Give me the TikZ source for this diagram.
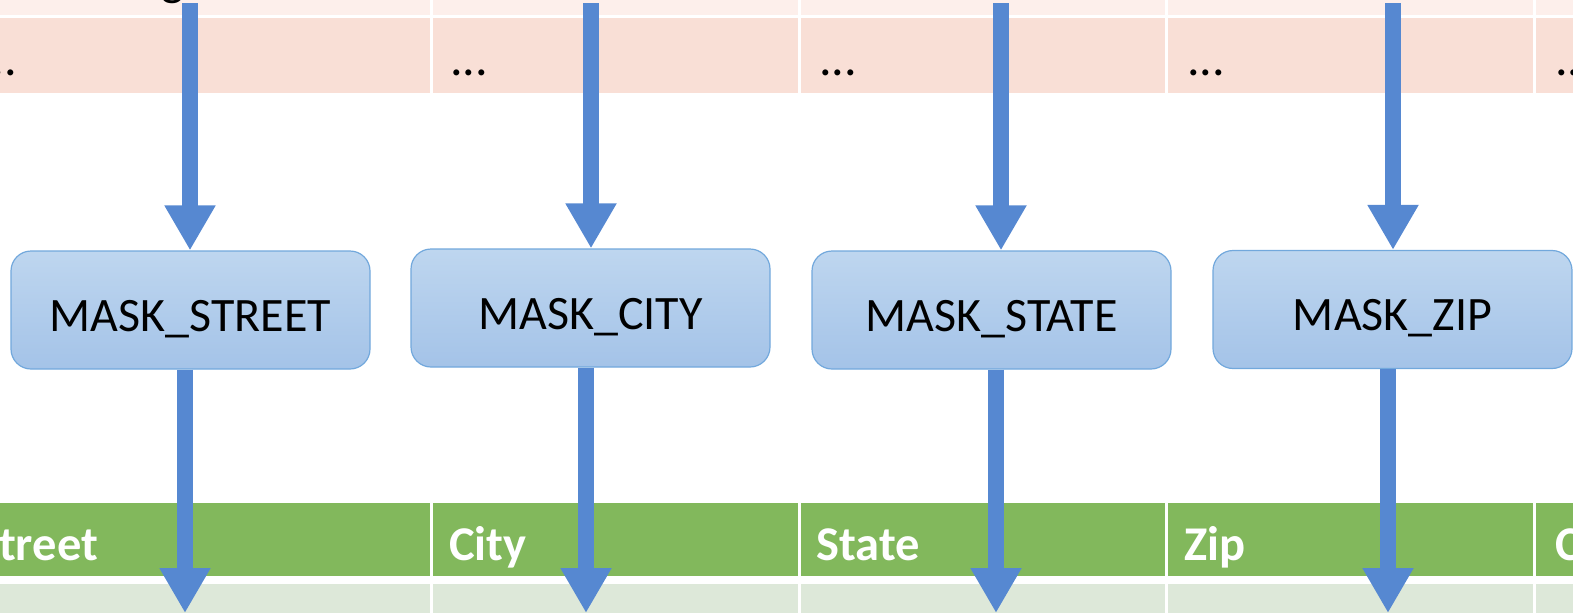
\documentclass[tikz,border=0pt]{standalone}
\usepackage{fontspec}
\setmainfont{Carlito}
\usetikzlibrary{arrows.meta}
\definecolor{rowA}{HTML}{FDEFEB}
\definecolor{rowB}{HTML}{F9DFD6}
\definecolor{hdr}{HTML}{82B85C}
\definecolor{rowG}{HTML}{DDE8D9}
\definecolor{arr}{HTML}{5688D1}
\definecolor{boxtop}{HTML}{BED6EF}
\definecolor{boxbot}{HTML}{A4C3E8}
\definecolor{boxline}{HTML}{72A8DC}
\tikzset{
 maskbox/.style={draw=boxline, line width=1.2pt, rounded corners=20pt, top color=boxtop, bottom color=boxbot, minimum width=359pt, minimum height=118pt, inner sep=0pt, text height=42pt, text depth=0pt, font=\fontsize{48}{56}\selectfont},
 flow/.style={draw=arr, line width=16pt, -{Triangle[width=48pt,length=45pt]}},
 hdrtext/.style={anchor=base west, inner sep=0pt, text=white, font=\fontsize{48.5}{56}\selectfont\bfseries},
 dots/.style={anchor=base west, inner sep=0pt, font=\fontsize{50}{60}\selectfont},
 divider/.style={draw=white, line width=3pt}
}
\begin{document}
\begin{tikzpicture}[x=1pt,y=-1pt]
\useasboundingbox (0,0) rectangle (1573,613);
\clip (0,0) rectangle (1573,613);
% tables
\fill[rowA] (0,0) rectangle (1573,15);
\fill[rowB] (0,18) rectangle (1573,93);
\fill[hdr] (0,503) rectangle (1573,576);
\fill[rowG] (0,584) rectangle (1573,613);
\foreach \x in {431,799,1166,1534} {
  \draw[divider] (\x,0) -- (\x,93);
  \draw[divider] (\x,503) -- (\x,613);
}
% texts in table rows
\node[anchor=base east, inner sep=0pt, font=\fontsize{48}{56}\selectfont] (gfrag) at (184,-5) {g};
\node[dots] (d1) at (-21,75) {...};
\node[dots] (d2) at (450,75) {...};
\node[dots] (d3) at (819,75) {...};
\node[dots] (d4) at (1187,75) {...};
\node[dots] (d5) at (1555,75) {...};
\node[hdrtext] (h1) at (-24,560) {Street};
\node[hdrtext] (h2) at (449,560) {City};
\node[hdrtext] (h3) at (816,560) {State};
\node[hdrtext] (h4) at (1184,560) {Zip};
\node[hdrtext] (h5) at (1555,560) {C};
% boxes
\node[maskbox] (m1) at (190.5,310) {MASK\_STREET};
\node[maskbox] (m2) at (590.5,308) {MASK\_CITY};
\node[maskbox] (m3) at (991.5,310) {MASK\_STATE};
\node[maskbox] (m4) at (1392.5,309.5) {MASK\_ZIP};
% arrows in
\coordinate (t1) at (190,3);
\coordinate (t2) at (591,3);
\coordinate (t3) at (1001,3);
\coordinate (t4) at (1393,3);
\draw[flow] (t1) -- (t1 |- m1.north);
\draw[flow] (t2) -- (t2 |- m2.north);
\draw[flow] (t3) -- (t3 |- m3.north);
\draw[flow] (t4) -- (t4 |- m4.north);
% arrows out
\coordinate (b1) at (185,613);
\coordinate (b2) at (586,613);
\coordinate (b3) at (996,613);
\coordinate (b4) at (1388,613);
\draw[flow] (b1 |- m1.south) -- (b1);
\draw[flow] (b2 |- m2.south) -- (b2);
\draw[flow] (b3 |- m3.south) -- (b3);
\draw[flow] (b4 |- m4.south) -- (b4);
\end{tikzpicture}
\end{document}
